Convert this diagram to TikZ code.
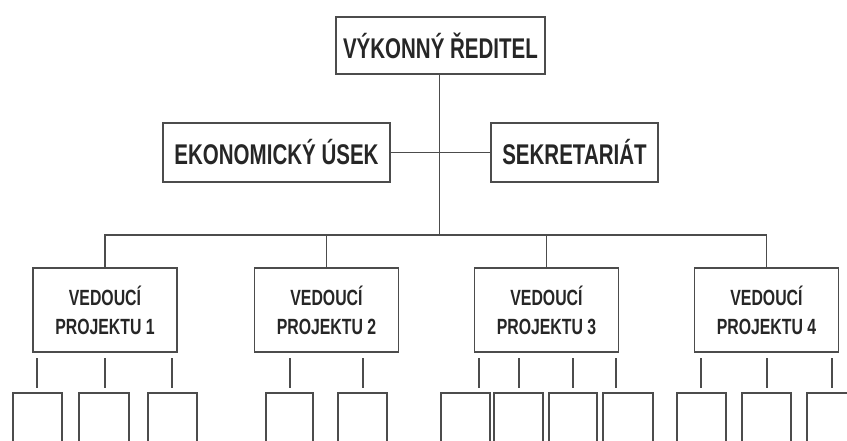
\documentclass[tikz,border=0pt]{standalone}
\usepackage{fontspec}
\setmainfont[FakeStretch=0.72]{Liberation Sans}
\begin{document}
\begin{tikzpicture}[x=1pt,y=-1pt,
  ln/.style={draw=black!70, line width=1.5pt},
  box/.style={ln, rectangle, inner sep=0pt, text=black!85, font=\bfseries\fontsize{28.5}{32}\selectfont},
  pbox/.style={box, minimum width=144pt, minimum height=84pt, align=center, font=\bfseries\fontsize{22}{29}\selectfont}]
\useasboundingbox (0,0) rectangle (847,441);
\node[box, minimum width=209pt, minimum height=57pt] (top) at (440.5,45.5) {VÝKONNÝ ŘEDITEL};
\node[box, minimum width=227pt, minimum height=59pt] (eko) at (276.5,152.5) {EKONOMICKÝ ÚSEK};
\node[box, minimum width=167pt, minimum height=59pt] (sek) at (574.5,152.5) {SEKRETARIÁT};
\node[pbox] (p1) at (105,310) {VEDOUCÍ\\PROJEKTU 1};
\node[pbox] (p2) at (326.5,310) {VEDOUCÍ\\PROJEKTU 2};
\node[pbox] (p3) at (546.5,310) {VEDOUCÍ\\PROJEKTU 3};
\node[pbox] (p4) at (766.5,310) {VEDOUCÍ\\PROJEKTU 4};
\coordinate (bus) at (439.5,235);
\draw[ln] (top.south -| bus) -- (bus);
\draw[ln] (eko.east) -- (sek.west);
\draw[ln] (p1.north) |- (bus) -| (p4.north);
\draw[ln] (p2.north) -- (p2.north |- bus);
\draw[ln] (p3.north) -- (p3.north |- bus);
% short ticks below project boxes
\foreach \x in {37,105,172,290,363,479,519,573,616,701,767,832}
  \draw[ln] (\x,358) -- (\x,388);
% lower boxes (cut by the lower edge)
\foreach \a/\b in {13/62,79/129,148/197,266/313,338/387,441/490,494/543,549/597,603/653,677/726,742/791,807/860}
  \draw[ln] (\a,445) -- (\a,393) -- (\b,393) -- (\b,445);
\end{tikzpicture}
\end{document}
